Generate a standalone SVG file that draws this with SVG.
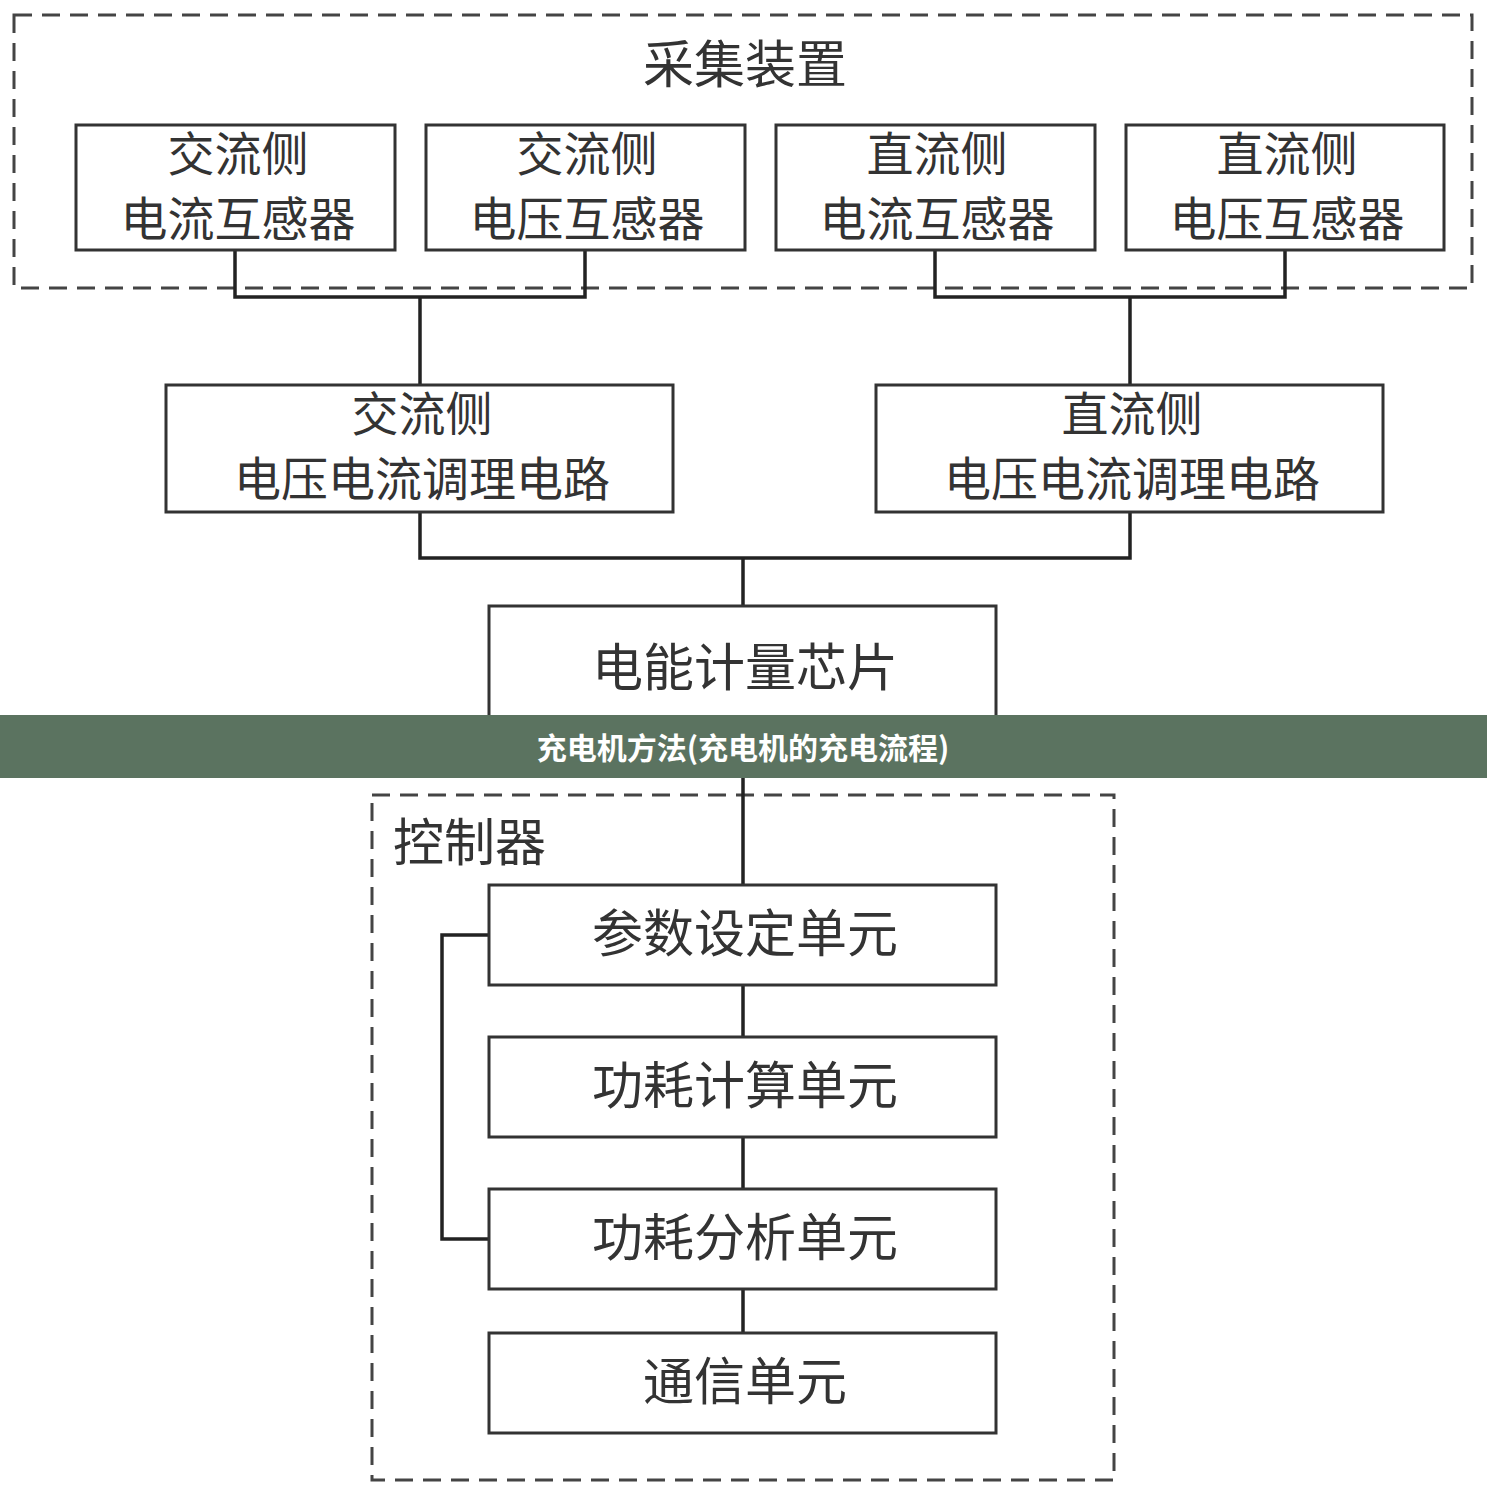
<svg xmlns="http://www.w3.org/2000/svg" width="1487" height="1495" viewBox="0 0 1487 1495">
<style>
.b{fill:#fff;stroke:#333;stroke-width:3}
.d{fill:none;stroke:#444;stroke-width:3;stroke-dasharray:18 10}
.l{fill:none;stroke:#222;stroke-width:3.5}
text{font-family:"Noto Sans CJK SC",sans-serif;font-size:51px;fill:#333;text-anchor:middle}
.s{font-size:47px}
.t{font-size:30px;font-weight:bold;fill:#fff}
</style>
<rect width="1487" height="1495" fill="#fff"/>
<g id="collector"><rect class="d" x="14" y="15" width="1458" height="273"/><text x="745" y="83">采集装置</text></g>
<g id="controller"><rect class="d" x="372" y="795" width="742" height="685"/><text x="393" y="861" style="text-anchor:start">控制器</text></g>
<g id="connectors">
<path class="l" d="M235 250V297H585V250M420 297V385M935 250V297H1285V250M1130 297V385M420 512V558H1130V512M743 558V606M743 731V885M743 985V1037M743 1137V1189M743 1289V1333M489 935H442V1239H489"/>
</g>
<g id="n1"><rect class="b" x="76" y="125" width="319" height="125"/><text class="s" x="238" y="171">交流侧</text><text class="s" x="238" y="236">电流互感器</text></g>
<g id="n2"><rect class="b" x="426" y="125" width="319" height="125"/><text class="s" x="587" y="171">交流侧</text><text class="s" x="587" y="236">电压互感器</text></g>
<g id="n3"><rect class="b" x="776" y="125" width="319" height="125"/><text class="s" x="937" y="171">直流侧</text><text class="s" x="937" y="236">电流互感器</text></g>
<g id="n4"><rect class="b" x="1126" y="125" width="318" height="125"/><text class="s" x="1287" y="171">直流侧</text><text class="s" x="1287" y="236">电压互感器</text></g>
<g id="n5"><rect class="b" x="166" y="385" width="507" height="127"/><text class="s" x="422" y="431">交流侧</text><text class="s" x="422" y="496">电压电流调理电路</text></g>
<g id="n6"><rect class="b" x="876" y="385" width="507" height="127"/><text class="s" x="1132" y="431">直流侧</text><text class="s" x="1132" y="496">电压电流调理电路</text></g>
<g id="n7"><rect class="b" x="489" y="606" width="507" height="125"/><text x="745" y="686">电能计量芯片</text></g>
<g id="n8"><rect class="b" x="489" y="885" width="507" height="100"/><text x="745" y="952">参数设定单元</text></g>
<g id="n9"><rect class="b" x="489" y="1037" width="507" height="100"/><text x="745" y="1104">功耗计算单元</text></g>
<g id="n10"><rect class="b" x="489" y="1189" width="507" height="100"/><text x="745" y="1256">功耗分析单元</text></g>
<g id="n11"><rect class="b" x="489" y="1333" width="507" height="100"/><text x="745" y="1400">通信单元</text></g>
<g id="banner"><rect x="0" y="715" width="1487" height="63" fill="#5b7360"/><text class="t" x="743" y="759">充电机方法(充电机的充电流程)</text></g>
</svg>
